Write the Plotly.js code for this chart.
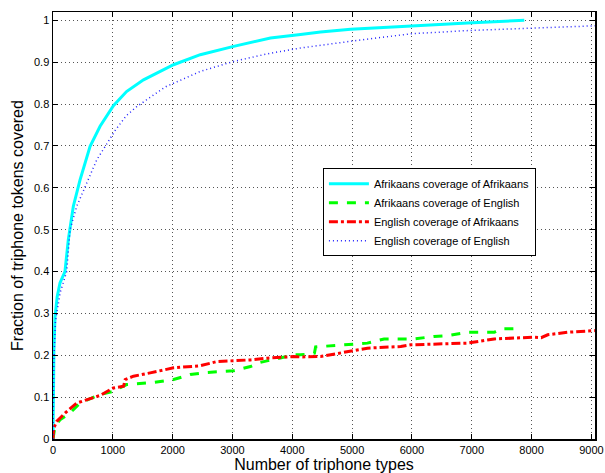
<!DOCTYPE html>
<html><head><meta charset="utf-8">
<script src="https://cdn.plot.ly/plotly-3.0.1.min.js"></script>
<style>body{margin:0;background:#fff}#c{width:605px;height:473px}</style>
</head><body><div id="c"></div>
<script>
var afAfX = [0, 5, 15, 33, 70, 117, 200, 256, 340, 452, 620, 787, 1010, 1229, 1513, 2015, 2462, 3020, 3635, 4137, 4472, 4975, 5980, 6930, 7878];
var afAfY = [0, 0.12, 0.21, 0.29, 0.34, 0.373, 0.40, 0.476, 0.556, 0.619, 0.699, 0.747, 0.796, 0.830, 0.858, 0.894, 0.918, 0.938, 0.958, 0.966, 0.972, 0.979, 0.987, 0.994, 1.0];

var afEnX = [0, 33, 117, 285, 452, 787, 1010, 1229, 1680, 2015, 2295, 2574, 3020, 3300, 3467, 3802, 4025, 4137, 4370, 4390, 4975, 5255, 5534, 6036, 6370, 6593, 6929, 7376, 7488, 7830];
var afEnY = [0, 0.030, 0.046, 0.062, 0.086, 0.106, 0.114, 0.130, 0.135, 0.142, 0.154, 0.159, 0.163, 0.173, 0.183, 0.193, 0.201, 0.201, 0.205, 0.220, 0.225, 0.229, 0.239, 0.239, 0.245, 0.247, 0.255, 0.255, 0.263, 0.264];

var enAfX = [0, 10, 62, 201, 397, 564, 787, 1010, 1180, 1206, 1345, 1625, 2015, 2462, 2742, 3300, 3579, 4025, 4137, 4472, 4975, 5255, 5814, 5980, 6929, 7376, 8046, 8160, 8269, 8604, 9060];
var enAfY = [0, 0.025, 0.042, 0.062, 0.086, 0.094, 0.104, 0.122, 0.126, 0.142, 0.150, 0.158, 0.170, 0.175, 0.185, 0.189, 0.193, 0.197, 0.196, 0.197, 0.209, 0.217, 0.221, 0.225, 0.229, 0.239, 0.243, 0.242, 0.249, 0.255, 0.259];

var enEnX = [0, 5, 15, 40, 120, 229, 285, 397, 508, 732, 1039, 1223, 1390, 1876, 2462, 3020, 3579, 4137, 4975, 5980, 6985, 7990, 8995, 9060];
var enEnY = [0, 0.10, 0.19, 0.28, 0.35, 0.40, 0.50, 0.556, 0.592, 0.667, 0.737, 0.772, 0.793, 0.841, 0.878, 0.902, 0.920, 0.934, 0.950, 0.968, 0.976, 0.982, 0.987, 0.987];

var names = ["Afrikaans coverage of Afrikaans", "Afrikaans coverage of English", "English coverage of Afrikaans", "English coverage of English"];
var xTicks = [0, 1000, 2000, 3000, 4000, 5000, 6000, 7000, 8000, 9000];
var yTicks = [0, 0.1, 0.2, 0.3, 0.4, 0.5, 0.6, 0.7, 0.8, 0.9, 1];
var yTickText = ["0", "0.1", "0.2", "0.3", "0.4", "0.5", "0.6", "0.7", "0.8", "0.9", "1"];

var traces = [
  {x: afAfX, y: afAfY, name: names[0], mode: "lines", line: {color: "#00ffff", width: 3}},
  {x: afEnX, y: afEnY, name: names[1], mode: "lines", line: {color: "#00ff00", width: 3, dash: "dash"}},
  {x: enAfX, y: enAfY, name: names[2], mode: "lines", line: {color: "#ff0000", width: 3, dash: "dashdot"}},
  {x: enEnX, y: enEnY, name: names[3], mode: "lines", line: {color: "#2222ff", width: 1.5, dash: "1px,3px"}}
];

var axisCommon = {
  showline: true, linecolor: "#000", linewidth: 1.5, mirror: "ticks",
  ticks: "inside", ticklen: 5, tickcolor: "#000", tickwidth: 1,
  showgrid: true, gridcolor: "#555", griddash: "1px,3px", gridwidth: 1,
  zeroline: false, tickfont: {family: "Liberation Sans, Arial, sans-serif", size: 11, color: "#000"}
};

var layout = {
  width: 605, height: 473,
  margin: {l: 53, r: 10, t: 12, b: 34},
  paper_bgcolor: "#fff", plot_bgcolor: "#fff",
  showlegend: true,
  legend: {x: 0.498, y: 0.634, xanchor: "left", yanchor: "top",
    bgcolor: "#fff", bordercolor: "#000", borderwidth: 1,
    font: {family: "Liberation Sans, Arial, sans-serif", size: 11, color: "#000"},
    tracegroupgap: 0, itemwidth: 40},
  xaxis: Object.assign({}, axisCommon, {
    range: [0, 9060], tickvals: xTicks, ticktext: xTicks.map(String),
    title: {text: "Number of triphone types", standoff: 2,
      font: {family: "Liberation Sans, Arial, sans-serif", size: 16, color: "#000"}}
  }),
  yaxis: Object.assign({}, axisCommon, {
    range: [0, 1.02], tickvals: yTicks, ticktext: yTickText,
    title: {text: "Fraction of triphone tokens covered", standoff: 6,
      font: {family: "Liberation Sans, Arial, sans-serif", size: 16, color: "#000"}}
  })
};

Plotly.newPlot("c", traces, layout, {staticPlot: true, displayModeBar: false});
</script></body></html>
